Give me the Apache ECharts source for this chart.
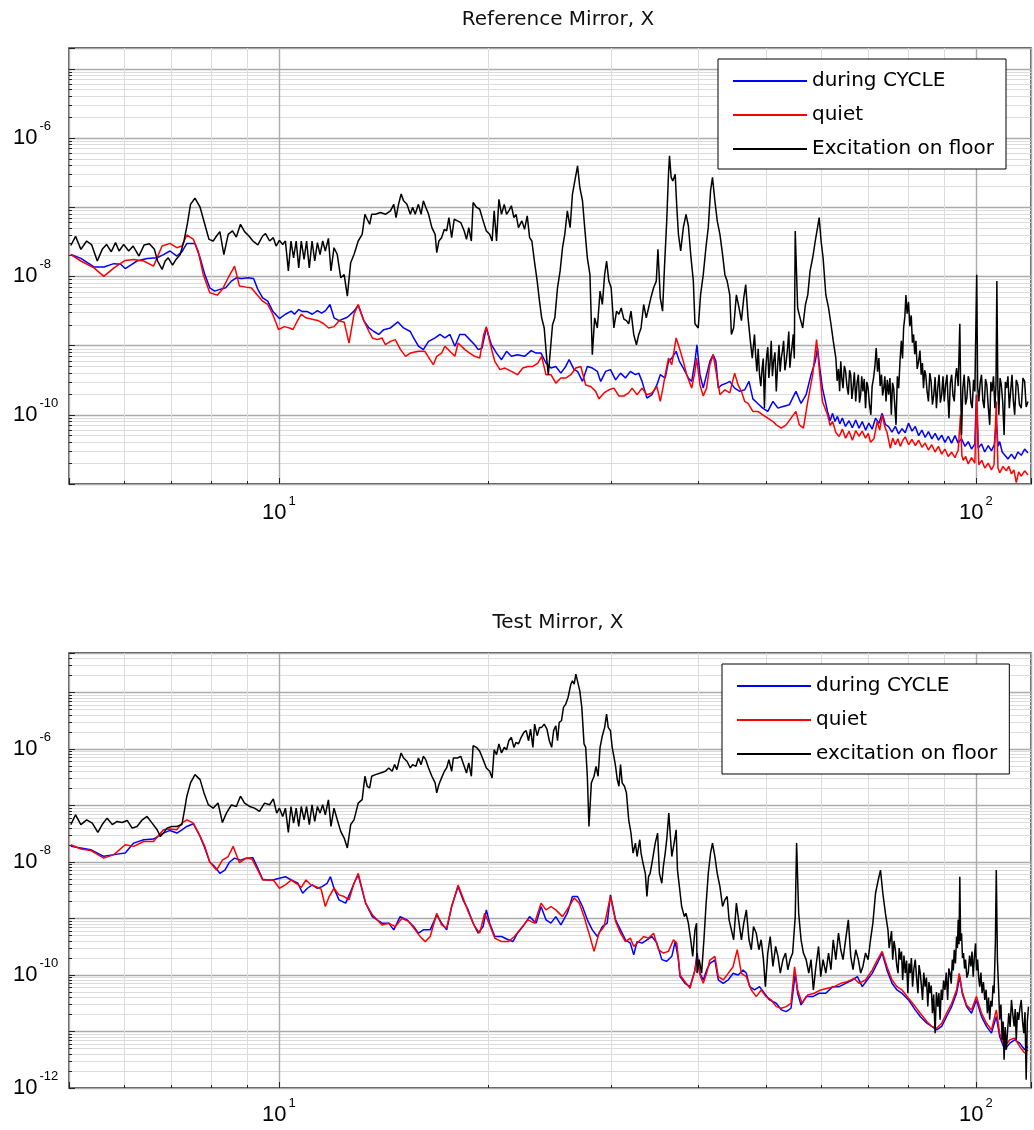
<!DOCTYPE html>
<html><head><meta charset="utf-8">
<script src="https://cdn.jsdelivr.net/npm/echarts@6/dist/echarts.min.js"></script>
<style>html,body{margin:0;padding:0;background:#fff}#c{width:1034px;height:1130px}</style>
</head><body><div id="c"></div>
<script>
const titles = ['Reference Mirror, X', 'Test Mirror, X'];
const legendTop = ['during CYCLE', 'quiet', 'Excitation on floor'];
const legendBottom = ['during CYCLE', 'quiet', 'excitation on floor'];
const xLabelExps = [1, 2];
const yLabelExpsTop = [-6, -8, -10];
const yLabelExpsBottom = [-6, -8, -10, -12];
const xRange = [5, 120];
const yRangeTop = [1e-11, 2e-5];
const yRangeBottom = [1e-12, 5e-5];

// Reference mirror: [frequency Hz, amplitude]
const refCycle = [[5.03,2.07e-8],[5.2,1.82e-8],[5.43,1.37e-8],[5.61,1.37e-8],[5.8,1.53e-8],[5.93,1.5e-8],[6.02,1.3e-8],[6.13,1.46e-8],[6.26,1.67e-8],[6.47,1.82e-8],[6.69,1.86e-8],[6.83,2.07e-8],[6.98,2.33e-8],[7.14,1.97e-8],[7.26,2.27e-8],[7.38,3.0e-8],[7.58,3.0e-8],[7.71,1.86e-8],[7.83,1.07e-8],[7.96,6.85e-9],[8.09,6.13e-9],[8.23,6.5e-9],[8.39,6.85e-9],[8.55,8.55e-9],[8.69,9.56e-9],[8.84,9.35e-9],[9.03,9.56e-9],[9.2,9.35e-9],[9.33,6.5e-9],[9.48,4.9e-9],[9.64,4.39e-9],[9.8,3.15e-9],[10.02,2.46e-9],[10.22,2.84e-9],[10.42,3.15e-9],[10.53,2.84e-9],[10.68,3.32e-9],[10.82,3.1e-9],[10.99,3.1e-9],[11.17,2.84e-9],[11.36,3.2e-9],[11.52,2.95e-9],[11.67,3.2e-9],[11.84,3.93e-9],[12.0,2.52e-9],[12.2,2.3e-9],[12.54,2.57e-9],[12.82,3.15e-9],[13.0,3.83e-9],[13.05,3.93e-9],[13.24,2.3e-9],[13.47,1.8e-9],[13.69,1.6e-9],[13.91,1.45e-9],[14.14,1.7e-9],[14.46,1.8e-9],[14.82,2.2e-9],[15.1,1.8e-9],[15.44,1.6e-9],[15.61,1.29e-9],[15.86,9.8e-10],[16.12,8.75e-10],[16.4,1.15e-9],[16.76,1.29e-9],[17.03,1.45e-9],[17.31,1.29e-9],[17.6,1.45e-9],[17.89,9.8e-10],[18.18,1.45e-9],[18.49,1.45e-9],[18.79,1.22e-9],[19.1,1.03e-9],[19.32,8.75e-10],[19.57,9.25e-10],[19.85,1.8e-9],[20.18,1.03e-9],[20.53,7.8e-10],[20.87,6.26e-10],[21.22,8.28e-10],[21.56,7.0e-10],[22.0,7.4e-10],[22.52,7.0e-10],[23.02,8.46e-10],[23.4,7.8e-10],[23.78,7.8e-10],[24.17,5.6e-10],[24.57,4.74e-10],[24.97,5.0e-10],[25.39,4.0e-10],[25.8,5.0e-10],[26.09,6.26e-10],[26.53,4.5e-10],[26.83,4.24e-10],[27.27,3.04e-10],[27.71,5.0e-10],[28.17,4.74e-10],[28.64,4.24e-10],[28.96,3.04e-10],[29.44,4.24e-10],[29.91,4.5e-10],[30.42,3.2e-10],[30.92,4.0e-10],[31.43,3.4e-10],[31.94,4.24e-10],[32.48,3.8e-10],[32.84,4.0e-10],[33.2,3.04e-10],[33.74,1.74e-10],[34.3,1.95e-10],[34.87,2.7e-10],[35.26,3.8e-10],[35.84,3.4e-10],[36.23,5.92e-10],[36.63,6.6e-10],[37.16,8.28e-10],[37.56,5.92e-10],[38.05,4.74e-10],[38.69,3.4e-10],[39.12,3.04e-10],[39.54,5.92e-10],[39.8,1.03e-9],[40.2,3.8e-10],[40.64,2.43e-10],[41.09,3.8e-10],[41.54,5.92e-10],[41.99,7.4e-10],[42.37,5.92e-10],[42.71,2.43e-10],[43.18,2.7e-10],[43.89,2.87e-10],[44.36,3.04e-10],[45.08,2.43e-10],[45.85,2.18e-10],[46.61,2.3e-10],[47.27,3.04e-10],[47.88,1.7e-10],[48.66,1.46e-10],[49.47,1.25e-10],[50.3,1.12e-10],[51.16,1.56e-10],[52.02,1.25e-10],[52.88,1.32e-10],[54.02,1.4e-10],[55.2,2.18e-10],[56.14,1.46e-10],[57.09,1.95e-10],[58.02,3.8e-10],[58.84,5.92e-10],[59.28,9.25e-10],[59.72,4.74e-10],[60.25,2.43e-10],[61.27,1.12e-10],[61.8,8.2e-11],[62.3,1.05e-10],[62.8,8.0e-11],[63.32,9.5e-11],[63.8,7.4e-11],[64.35,9.0e-11],[65.0,6.8e-11],[65.78,8.2e-11],[66.5,6.5e-11],[67.25,8.4e-11],[68.0,6.4e-11],[68.72,8.0e-11],[69.5,6.0e-11],[70.22,7.6e-11],[71.0,6.2e-11],[71.8,8.94e-11],[72.6,7.5e-11],[73.39,1.05e-10],[74.2,7.2e-11],[74.97,6.77e-11],[75.8,5.6e-11],[76.66,6.8e-11],[77.5,5.3e-11],[78.36,6.3e-11],[79.2,5.5e-11],[80.06,7.57e-11],[81.0,5.8e-11],[81.87,6.8e-11],[82.8,5.0e-11],[83.68,6.0e-11],[84.6,4.7e-11],[85.51,5.7e-11],[86.5,4.5e-11],[87.42,5.4e-11],[88.4,4.3e-11],[89.34,5.1e-11],[90.3,4.0e-11],[91.32,4.9e-11],[92.3,3.9e-11],[93.34,5.0e-11],[94.35,3.9e-11],[95.39,4.5e-11],[96.5,3.5e-11],[97.53,4.1e-11],[98.6,3.2e-11],[99.68,3.8e-11],[100.2,1.95e-10],[100.8,3.3e-11],[101.9,3.8e-11],[103.0,2.9e-11],[104.2,3.6e-11],[105.3,3.0e-11],[106.3,3.7e-11],[107.0,8.0e-11],[107.6,3.5e-11],[108.2,4.1e-11],[109.1,2.9e-11],[110.0,2.63e-11],[111.2,2.3e-11],[112.5,2.7e-11],[113.7,2.3e-11],[114.9,2.9e-11],[116.2,2.6e-11],[117.5,3.2e-11],[118.8,2.8e-11]];
const refQuiet = [[5.03,2.07e-8],[5.2,1.67e-8],[5.43,1.33e-8],[5.61,1.0e-8],[5.8,1.33e-8],[6.02,1.7e-8],[6.19,1.76e-8],[6.4,1.67e-8],[6.61,1.41e-8],[6.8,2.75e-8],[6.98,3.0e-8],[7.14,2.6e-8],[7.26,2.75e-8],[7.38,3.97e-8],[7.54,3.43e-8],[7.66,2.33e-8],[7.79,1.07e-8],[7.96,5.8e-9],[8.16,5.36e-9],[8.3,6.5e-9],[8.46,9.56e-9],[8.64,1.41e-8],[8.78,7.25e-9],[8.98,7.0e-9],[9.13,6.85e-9],[9.28,5.6e-9],[9.48,4.39e-9],[9.64,3.93e-9],[9.8,2.84e-9],[9.99,1.71e-9],[10.19,1.88e-9],[10.36,1.8e-9],[10.48,1.71e-9],[10.62,2.22e-9],[10.77,2.84e-9],[10.94,2.52e-9],[11.17,2.4e-9],[11.41,2.28e-9],[11.6,2.07e-9],[11.79,1.8e-9],[12.0,1.88e-9],[12.2,2.28e-9],[12.41,2.18e-9],[12.61,1.09e-9],[12.82,2.84e-9],[13.0,3.93e-9],[13.05,3.5e-9],[13.24,2.3e-9],[13.47,1.6e-9],[13.62,1.29e-9],[13.84,1.22e-9],[14.06,1.29e-9],[14.22,1.03e-9],[14.46,1.15e-9],[14.69,1.22e-9],[14.95,8.75e-10],[15.2,7.0e-10],[15.44,7.8e-10],[15.86,8.28e-10],[16.2,8.28e-10],[16.48,6.26e-10],[16.66,5.3e-10],[16.85,7.0e-10],[17.12,7.8e-10],[17.31,9.8e-10],[17.6,8.28e-10],[17.89,7.0e-10],[18.08,1.09e-9],[18.49,8.75e-10],[18.79,7.8e-10],[19.1,7.0e-10],[19.42,6.6e-10],[19.68,1.45e-9],[19.85,1.88e-9],[20.07,1.15e-9],[20.23,8.28e-10],[20.41,5.92e-10],[20.76,4.5e-10],[21.11,4.74e-10],[21.56,4.24e-10],[22.0,3.8e-10],[22.39,4.74e-10],[22.77,5.0e-10],[23.15,5.0e-10],[23.53,5.6e-10],[23.83,7.0e-10],[24.17,3.8e-10],[24.57,3.8e-10],[24.97,2.87e-10],[25.39,3.4e-10],[25.8,3.4e-10],[26.24,3.8e-10],[26.68,4.74e-10],[27.12,5.0e-10],[27.56,2.7e-10],[28.02,2.57e-10],[28.48,2.18e-10],[28.8,1.7e-10],[29.28,2.07e-10],[29.75,2.3e-10],[30.25,2.43e-10],[30.76,1.87e-10],[31.26,1.87e-10],[31.77,2.07e-10],[32.12,2.43e-10],[32.66,1.95e-10],[33.2,2.43e-10],[33.74,1.95e-10],[34.3,2.07e-10],[34.87,2.57e-10],[35.26,1.56e-10],[35.57,2.43e-10],[35.84,3.8e-10],[36.23,6.6e-10],[36.63,5.3e-10],[37.16,1.29e-9],[37.56,9.25e-10],[38.05,5.92e-10],[38.48,3.8e-10],[39.12,2.43e-10],[39.54,4.24e-10],[39.75,6.6e-10],[40.2,2.7e-10],[40.64,1.87e-10],[41.09,2.43e-10],[41.54,5.3e-10],[41.99,7.4e-10],[42.47,3.8e-10],[42.94,1.95e-10],[43.65,2.3e-10],[44.36,2.07e-10],[45.08,4.0e-10],[45.6,2.7e-10],[46.1,2.18e-10],[46.61,1.56e-10],[47.12,1.46e-10],[47.88,1.12e-10],[48.66,1.12e-10],[49.47,1.0e-10],[50.3,8.94e-11],[51.16,8.0e-11],[51.73,7.16e-11],[52.59,6.41e-11],[53.45,7.16e-11],[54.31,8.94e-11],[55.2,1.12e-10],[55.82,7.16e-11],[56.58,6.41e-11],[57.4,1.56e-10],[58.34,3.8e-10],[59.09,1.22e-9],[59.72,3.8e-10],[60.25,1.56e-10],[61.27,1.0e-10],[61.8,7.0e-11],[62.3,8.0e-11],[63.0,5.5e-11],[63.67,4.85e-11],[64.35,6.2e-11],[65.04,4.6e-11],[65.8,5.8e-11],[66.52,4.3e-11],[67.25,5.9e-11],[67.99,4.9e-11],[68.7,5.8e-11],[69.47,4.6e-11],[70.1,5.4e-11],[70.62,4.0e-11],[71.41,4.5e-11],[72.2,8.0e-11],[72.8,6.0e-11],[73.39,1.0e-10],[74.0,6.8e-11],[74.57,5.6e-11],[75.39,3.29e-11],[76.0,4.6e-11],[76.66,3.7e-11],[77.3,4.5e-11],[77.93,3.5e-11],[78.6,4.3e-11],[79.21,4.8e-11],[80.1,3.7e-11],[80.97,4.4e-11],[81.9,3.6e-11],[82.78,4.3e-11],[83.7,3.4e-11],[84.58,3.9e-11],[85.5,3.1e-11],[86.46,3.7e-11],[87.4,2.9e-11],[88.38,3.5e-11],[89.34,2.7e-11],[90.3,3.2e-11],[91.3,2.5e-11],[92.33,2.9e-11],[93.34,2.4e-11],[94.35,3.1e-11],[95.07,1.0e-10],[95.5,2.6e-11],[95.92,2.2e-11],[96.7,2.5e-11],[97.53,1.95e-11],[98.6,2.4e-11],[99.68,2.0e-11],[100.3,1.95e-10],[101.0,1.9e-11],[102.0,2.2e-11],[103.0,1.7e-11],[104.2,2.0e-11],[105.3,1.6e-11],[106.2,1.9e-11],[107.0,1.56e-10],[107.6,1.7e-11],[108.2,1.45e-11],[109.4,1.8e-11],[110.6,1.55e-11],[111.5,1.8e-11],[112.5,1.4e-11],[113.4,1.6e-11],[114.3,1.05e-11],[115.2,1.5e-11],[116.2,1.3e-11],[117.5,1.55e-11],[118.8,1.35e-11]];
const refFloor = [[5.03,2.8e-8],[5.11,3.8e-8],[5.2,2.46e-8],[5.3,3.25e-8],[5.39,2.85e-8],[5.49,1.67e-8],[5.58,2.46e-8],[5.66,2.9e-8],[5.75,2.27e-8],[5.83,3.08e-8],[5.9,2.33e-8],[5.99,2.9e-8],[6.09,2.33e-8],[6.18,2.75e-8],[6.3,1.97e-8],[6.41,2.85e-8],[6.52,2.97e-8],[6.63,2.46e-8],[6.7,1.67e-8],[6.8,1.26e-8],[6.87,1.67e-8],[6.94,1.86e-8],[7.04,1.46e-8],[7.12,1.76e-8],[7.22,2.07e-8],[7.31,3.25e-8],[7.39,5.67e-8],[7.47,1.1e-7],[7.58,1.35e-7],[7.71,1.0e-7],[7.83,5.67e-8],[7.94,3.43e-8],[8.05,3.25e-8],[8.14,3.84e-8],[8.23,4.44e-8],[8.34,2.07e-8],[8.46,4.06e-8],[8.58,4.54e-8],[8.69,3.71e-8],[8.81,5.67e-8],[8.93,4.44e-8],[9.06,3.84e-8],[9.18,3.25e-8],[9.33,2.85e-8],[9.48,3.84e-8],[9.57,4.15e-8],[9.7,3.25e-8],[9.82,3.63e-8],[9.91,2.75e-8],[10.02,3.32e-8],[10.13,2.9e-8],[10.22,3.25e-8],[10.32,1.2e-8],[10.41,3.25e-8],[10.5,1.86e-8],[10.59,3.25e-8],[10.68,1.33e-8],[10.77,3.25e-8],[10.87,1.76e-8],[10.96,3.25e-8],[11.06,1.33e-8],[11.16,3.25e-8],[11.26,1.67e-8],[11.36,3.08e-8],[11.46,2.07e-8],[11.56,3.25e-8],[11.66,2.33e-8],[11.78,3.55e-8],[11.88,1.2e-8],[12.0,2.6e-8],[12.13,2.07e-8],[12.27,9.56e-9],[12.41,1.06e-8],[12.54,5.2e-9],[12.68,1.58e-8],[12.82,2.07e-8],[13.0,3.25e-8],[13.17,4.06e-8],[13.29,7.9e-8],[13.39,6.7e-8],[13.5,5.67e-8],[13.59,7.9e-8],[13.76,7.9e-8],[13.99,8.37e-8],[14.22,7.9e-8],[14.46,8.85e-8],[14.62,1.1e-7],[14.73,7.1e-8],[14.85,1.1e-7],[14.98,1.55e-7],[15.1,1.24e-7],[15.27,1.1e-7],[15.44,7.9e-8],[15.56,1.0e-7],[15.69,7.9e-8],[15.86,1.1e-7],[16.0,7.9e-8],[16.12,1.24e-7],[16.25,1.0e-7],[16.4,7.9e-8],[16.58,5.07e-8],[16.76,4.06e-8],[16.85,2.2e-8],[16.97,3.25e-8],[17.12,3.63e-8],[17.28,4.8e-8],[17.41,4.54e-8],[17.54,7.1e-8],[17.7,3.63e-8],[17.85,6.7e-8],[18.04,6.35e-8],[18.24,6.0e-8],[18.45,4.54e-8],[18.59,3.43e-8],[18.73,5.07e-8],[18.89,3.25e-8],[19.0,1.17e-7],[19.21,1.0e-7],[19.42,9.35e-8],[19.64,6.35e-8],[19.85,4.54e-8],[20.07,4.06e-8],[20.23,3.25e-8],[20.37,8.85e-8],[20.53,3.25e-8],[20.69,1.3e-7],[20.87,7.9e-8],[21.06,1.1e-7],[21.22,7.9e-8],[21.38,8.85e-8],[21.56,1.05e-7],[21.74,7.1e-8],[21.9,7.9e-8],[22.07,5.07e-8],[22.32,6.35e-8],[22.52,4.8e-8],[22.72,7.5e-8],[22.9,3.63e-8],[23.07,3.25e-8],[23.28,1.58e-8],[23.48,8.55e-9],[23.66,4.39e-9],[23.83,2.52e-9],[24.03,1.8e-9],[24.25,5.92e-10],[24.36,3.8e-10],[24.52,8.28e-10],[24.7,2.0e-9],[24.89,2.52e-9],[25.11,6.85e-9],[25.33,1.21e-8],[25.53,2.6e-8],[25.72,4.06e-8],[25.94,8.85e-8],[26.18,5.07e-8],[26.38,1.55e-7],[26.59,2.4e-7],[26.83,3.97e-7],[27.03,1.93e-7],[27.27,1.24e-7],[27.47,5.07e-8],[27.71,1.86e-8],[27.95,1.06e-8],[28.17,7.4e-10],[28.39,2.52e-9],[28.64,1.8e-9],[28.9,6.13e-9],[29.12,3.93e-9],[29.34,1.06e-8],[29.53,1.67e-8],[29.75,8.55e-9],[29.98,6.85e-9],[30.25,1.8e-9],[30.52,3.15e-9],[30.76,2.84e-9],[30.99,3.5e-9],[31.26,2.42e-9],[31.53,2.3e-9],[31.77,2.07e-9],[32.01,3.15e-9],[32.3,1.45e-9],[32.59,1.03e-9],[32.84,1.45e-9],[33.09,1.8e-9],[33.38,3.93e-9],[33.67,2.52e-9],[33.92,3.5e-9],[34.18,4.9e-9],[34.49,6.85e-9],[34.8,8.55e-9],[34.99,2.46e-8],[35.26,4.9e-9],[35.53,3.15e-9],[35.75,1.33e-8],[36.02,6.35e-8],[36.23,3.0e-7],[36.35,5.54e-7],[36.55,2.7e-7],[36.75,2.4e-7],[37.04,3.0e-7],[37.24,1.0e-7],[37.44,4.06e-8],[37.72,2.33e-8],[38.05,5.07e-8],[38.39,7.9e-8],[38.69,5.4e-8],[38.99,2.07e-8],[39.33,8.55e-9],[39.54,2.07e-9],[39.97,1.8e-9],[40.28,5.4e-9],[40.64,1.06e-8],[41.0,2.6e-8],[41.32,5.07e-8],[41.63,1.72e-7],[41.9,2.7e-7],[42.23,1.24e-7],[42.56,6.35e-8],[42.94,4.06e-8],[43.32,2.07e-8],[43.65,1.06e-8],[43.98,8.55e-9],[44.36,5.4e-9],[44.6,1.45e-9],[44.93,1.8e-9],[45.34,5.4e-9],[45.74,3.5e-9],[46.1,2.3e-9],[46.46,4.9e-9],[46.76,7.6e-9],[47.12,2.52e-9],[47.48,1.17e-9],[47.78,6.6e-10],[48.14,1.45e-9],[48.33,7.0e-10],[48.52,4.24e-10],[48.73,9.0e-10],[48.94,3.8e-10],[49.15,2.6e-10],[49.37,4.74e-10],[49.55,6.5e-10],[49.74,1.25e-10],[49.93,4.3e-10],[50.13,7.4e-10],[50.3,9.5e-10],[50.47,3.4e-10],[50.67,5.5e-10],[50.87,1.17e-9],[51.07,3.6e-10],[51.27,5.92e-10],[51.5,8.0e-10],[51.73,2.18e-10],[51.96,5.2e-10],[52.19,1.03e-9],[52.39,4.2e-10],[52.59,6.6e-10],[52.8,8.5e-10],[53.0,1.17e-9],[53.22,4.4e-10],[53.45,5.92e-10],[53.68,9.0e-10],[53.91,1.6e-9],[54.1,4.8e-10],[54.31,7.4e-10],[54.51,1.0e-9],[54.71,1.45e-9],[54.9,6.5e-10],[55.07,4.54e-8],[55.51,3.5e-9],[55.95,2.52e-9],[56.45,1.8e-9],[56.96,3.93e-9],[57.4,5.4e-9],[57.84,1.2e-8],[58.34,1.86e-8],[58.84,3.25e-8],[59.28,5.07e-8],[59.6,7.1e-8],[59.98,3.25e-8],[60.38,1.86e-8],[60.93,5.4e-9],[61.48,3.5e-9],[61.96,2.07e-9],[62.44,1.17e-9],[62.98,6.6e-10],[63.25,3.1e-10],[63.53,4.6e-10],[63.77,2.2e-10],[64.01,5.92e-10],[64.25,3.3e-10],[64.49,2.43e-10],[64.77,5.1e-10],[65.04,4.24e-10],[65.33,2.6e-10],[65.63,1.95e-10],[65.9,4.4e-10],[66.15,3.8e-10],[66.4,1.7e-10],[66.66,2.43e-10],[66.95,4.1e-10],[67.25,1.56e-10],[67.55,2.9e-10],[67.84,3.8e-10],[68.1,1.5e-10],[68.36,1.95e-10],[68.6,3.6e-10],[68.87,2.18e-10],[69.17,3.3e-10],[69.47,1.25e-10],[69.77,3.0e-10],[70.06,2.43e-10],[70.38,1.4e-10],[70.7,1.0e-10],[71.0,2.6e-10],[71.33,3.4e-10],[71.65,5.0e-10],[71.96,9.25e-10],[72.28,4.2e-10],[72.6,6.6e-10],[72.9,2.6e-10],[73.23,3.8e-10],[73.5,1.9e-10],[73.78,2.43e-10],[74.05,3.6e-10],[74.33,1.56e-10],[74.65,3.2e-10],[74.97,1.95e-10],[75.3,3.4e-10],[75.65,1.0e-10],[75.95,2.9e-10],[76.24,2.43e-10],[76.53,1.3e-10],[76.83,7.16e-11],[77.17,3.6e-10],[77.51,2.43e-10],[77.85,6.0e-10],[78.19,1.17e-9],[78.5,6.5e-10],[78.78,1.8e-9],[79.1,2.6e-9],[79.38,5.4e-9],[79.7,2.9e-9],[80.06,4.3e-9],[80.42,1.9e-9],[80.79,2.73e-9],[81.1,1.1e-9],[81.42,1.45e-9],[81.73,7.5e-10],[82.05,1.17e-9],[82.4,4.6e-10],[82.78,5.92e-10],[83.15,8.5e-10],[83.5,3.8e-10],[83.82,5.6e-10],[84.13,2.43e-10],[84.45,4.4e-10],[84.76,3.8e-10],[85.13,2.2e-10],[85.51,1.56e-10],[85.9,4.0e-10],[86.27,3.04e-10],[86.65,1.4e-10],[87.04,1.95e-10],[87.42,3.5e-10],[87.8,1.25e-10],[88.2,2.5e-10],[88.57,3.8e-10],[88.95,1.5e-10],[89.34,1.95e-10],[89.72,3.6e-10],[90.1,1.56e-10],[90.5,2.7e-10],[90.92,3.8e-10],[91.22,1.7e-10],[91.52,8.94e-11],[91.93,2.9e-10],[92.33,3.8e-10],[92.73,1.9e-10],[93.13,1.56e-10],[93.5,3.4e-10],[93.84,4.74e-10],[94.35,2.6e-10],[94.85,2.07e-9],[95.1,2.8e-10],[95.39,5.13e-11],[95.8,2.4e-10],[96.24,3.8e-10],[96.67,1.4e-10],[97.1,1.76e-10],[97.53,3.6e-10],[97.96,3.04e-10],[98.4,1.5e-10],[98.82,1.25e-10],[99.25,3.2e-10],[99.68,2.18e-10],[100.3,1.06e-8],[100.6,2.6e-10],[101.0,1.56e-10],[101.45,2.9e-10],[101.9,3.8e-10],[102.35,1.6e-10],[102.8,1.25e-10],[103.25,3.3e-10],[103.7,2.7e-10],[104.2,1.3e-10],[104.7,7.16e-11],[105.1,3.0e-10],[105.5,2.18e-10],[106.0,3.6e-10],[106.5,1.25e-10],[106.9,2.8e-10],[107.2,8.55e-9],[107.55,2.4e-10],[107.9,1.0e-10],[108.35,3.4e-10],[108.8,2.7e-10],[109.3,1.5e-10],[109.8,5.13e-11],[110.25,3.0e-10],[110.7,2.43e-10],[111.2,3.6e-10],[111.7,1.25e-10],[112.2,2.2e-10],[112.7,3.8e-10],[113.2,1.6e-10],[113.7,1.0e-10],[114.3,3.2e-10],[114.9,2.7e-10],[115.5,1.4e-10],[116.2,1.25e-10],[116.85,3.4e-10],[117.5,3.04e-10],[118.1,1.3e-10],[118.8,1.56e-10]];

// Test mirror: [frequency Hz, amplitude]
const testCycle = [[5.03,1.89e-8],[5.2,1.77e-8],[5.37,1.65e-8],[5.61,1.26e-8],[5.8,1.35e-8],[6.02,1.44e-8],[6.19,2.16e-8],[6.4,2.48e-8],[6.61,2.55e-8],[6.83,3.25e-8],[6.98,3.62e-8],[7.14,3.25e-8],[7.26,3.72e-8],[7.38,4.26e-8],[7.54,4.75e-8],[7.71,2.84e-8],[7.83,1.77e-8],[7.96,1.0e-8],[8.09,8.27e-9],[8.23,6.3e-9],[8.37,7.2e-9],[8.5,1.0e-8],[8.64,1.17e-8],[8.81,1.08e-8],[8.98,1.17e-8],[9.18,1.19e-8],[9.33,7.73e-9],[9.48,4.94e-9],[9.64,4.8e-9],[9.8,4.8e-9],[10.02,5.15e-9],[10.22,5.5e-9],[10.42,4.8e-9],[10.65,4.2e-9],[10.82,2.8e-9],[10.99,3.43e-9],[11.17,3.93e-9],[11.36,3.43e-9],[11.54,3.67e-9],[11.73,4.2e-9],[11.86,5.5e-9],[12.0,3.43e-9],[12.2,2.14e-9],[12.47,1.87e-9],[12.68,2.99e-9],[12.82,4.2e-9],[13.0,5.89e-9],[13.05,5.89e-9],[13.32,1.87e-9],[13.62,1.08e-9],[14.06,8.27e-10],[14.38,8.27e-10],[14.62,6.3e-10],[14.93,1.08e-9],[15.27,9.47e-10],[15.61,7.2e-10],[15.86,5.5e-10],[16.12,6.3e-10],[16.49,6.3e-10],[16.85,1.16e-9],[17.12,8.27e-10],[17.41,6.3e-10],[17.7,1.63e-9],[18.08,3.67e-9],[18.38,2.14e-9],[18.69,1.42e-9],[19.0,8.27e-10],[19.32,5.5e-10],[19.64,7.2e-10],[19.85,1.42e-9],[20.07,8.27e-10],[20.41,4.8e-10],[20.87,4.8e-10],[21.34,4.2e-10],[21.67,3.9e-10],[22.0,5.5e-10],[22.39,7.2e-10],[22.9,1.08e-9],[23.4,8.27e-10],[23.78,1.63e-9],[24.17,9.47e-10],[24.57,8.27e-10],[24.97,1.08e-9],[25.39,7.7e-10],[25.94,1.24e-9],[26.38,2.45e-9],[26.83,2.45e-9],[27.27,1.63e-9],[27.71,9.47e-10],[28.17,6.3e-10],[28.64,4.8e-10],[29.12,7.2e-10],[29.59,8.27e-10],[29.91,2.62e-9],[30.42,9.47e-10],[30.92,6.3e-10],[31.43,4.2e-10],[31.94,3.67e-10],[32.3,2.27e-10],[32.66,3.9e-10],[33.2,3.67e-10],[33.74,4.2e-10],[34.3,4.8e-10],[34.87,3.67e-10],[35.44,1.87e-10],[36.02,1.75e-10],[36.63,2.14e-10],[37.04,3.9e-10],[37.44,1.87e-10],[37.64,9.35e-11],[38.26,7.13e-11],[38.9,6.22e-11],[39.54,1.22e-10],[39.82,2.45e-10],[40.2,1.07e-10],[40.64,8.16e-11],[41.09,1.22e-10],[41.54,1.6e-10],[42.23,1.84e-10],[42.71,8.16e-11],[43.41,7.13e-11],[44.13,8.16e-11],[44.84,1.07e-10],[45.6,1.0e-10],[46.36,1.22e-10],[46.86,1.07e-10],[47.37,6.22e-11],[48.14,5.44e-11],[48.94,6.22e-11],[49.74,4.75e-11],[50.58,3.62e-11],[51.73,3.16e-11],[52.59,2.41e-11],[53.45,2.25e-11],[54.31,2.58e-11],[55.07,1.07e-10],[55.51,4.75e-11],[56.14,2.95e-11],[57.09,4.15e-11],[58.34,4.15e-11],[59.6,4.75e-11],[60.93,4.75e-11],[62.3,6.22e-11],[63.67,6.22e-11],[65.04,7.13e-11],[66.52,8.16e-11],[67.62,9.35e-11],[68.72,6.22e-11],[69.84,8.16e-11],[71.01,1.07e-10],[72.2,1.6e-10],[73.39,2.45e-10],[74.57,1.22e-10],[75.82,7.13e-11],[77.08,5.44e-11],[78.36,4.75e-11],[80.06,3.62e-11],[81.87,2.41e-11],[83.23,1.84e-11],[85.06,1.4e-11],[86.46,1.23e-11],[87.89,1.07e-11],[89.34,1.23e-11],[90.81,1.84e-11],[92.33,2.76e-11],[93.84,4.75e-11],[94.85,9.35e-11],[95.6,4.75e-11],[96.99,2.76e-11],[98.6,2.11e-11],[100.2,3.62e-11],[101.9,1.84e-11],[103.6,1.23e-11],[105.3,9.35e-12],[107.0,1.84e-11],[108.2,8.16e-12],[110.0,4.75e-12],[111.9,6.22e-12],[113.7,7.13e-12],[115.6,6.22e-12],[117.5,4.75e-12],[118.8,5.44e-12]];
const testQuiet = [[5.03,2.02e-8],[5.2,1.7e-8],[5.37,1.6e-8],[5.61,1.17e-8],[5.8,1.35e-8],[6.02,2.02e-8],[6.19,1.89e-8],[6.4,2.31e-8],[6.61,2.31e-8],[6.83,3.72e-8],[6.98,3.82e-8],[7.14,3.72e-8],[7.26,4.88e-8],[7.38,5.58e-8],[7.54,4.88e-8],[7.71,2.84e-8],[7.83,1.89e-8],[7.96,1.0e-8],[8.14,7.2e-9],[8.3,1.08e-8],[8.46,1.25e-8],[8.6,1.89e-8],[8.78,9.7e-9],[8.98,1.17e-8],[9.15,1.13e-8],[9.33,7.2e-9],[9.48,4.8e-9],[9.64,4.8e-9],[9.82,4.8e-9],[10.02,3.43e-9],[10.22,3.93e-9],[10.42,4.8e-9],[10.59,4.2e-9],[10.77,3.55e-9],[10.94,4.8e-9],[11.12,3.93e-9],[11.31,3.67e-9],[11.5,3.3e-9],[11.66,1.63e-9],[11.81,2.45e-9],[12.0,3.43e-9],[12.2,2.62e-9],[12.41,2.45e-9],[12.61,2.14e-9],[12.82,4.2e-9],[13.0,6.3e-9],[13.05,6.3e-9],[13.32,1.87e-9],[13.62,1.16e-9],[14.06,7.7e-10],[14.38,8.27e-10],[14.69,7.2e-10],[15.02,1.0e-9],[15.35,8.9e-10],[15.69,6.3e-10],[15.95,4.8e-10],[16.22,3.9e-10],[16.49,4.8e-10],[16.85,1.24e-9],[17.12,7.7e-10],[17.41,6.75e-10],[17.7,1.63e-9],[18.08,3.9e-9],[18.38,2.3e-9],[18.69,1.33e-9],[19.1,7.2e-10],[19.42,5.5e-10],[19.74,1.24e-9],[20.07,7.7e-10],[20.41,4.5e-10],[20.87,3.9e-10],[21.34,3.9e-10],[21.78,4.8e-10],[22.27,6.75e-10],[22.77,9.47e-10],[23.28,8.27e-10],[23.78,1.87e-9],[24.17,1.42e-9],[24.57,1.63e-9],[24.97,1.42e-9],[25.53,1.08e-9],[26.09,1.63e-9],[26.53,2.3e-9],[26.98,1.87e-9],[27.41,1.08e-9],[27.86,5.5e-10],[28.33,2.62e-10],[28.8,5.5e-10],[29.28,7.2e-10],[29.91,2.45e-9],[30.42,8.9e-10],[30.92,5.5e-10],[31.43,3.9e-10],[31.94,4.5e-10],[32.3,3.2e-10],[32.84,3.9e-10],[33.38,4.8e-10],[33.92,4.5e-10],[34.49,5.5e-10],[35.06,2.8e-10],[35.62,2.45e-10],[36.23,2.62e-10],[36.83,4.2e-10],[37.24,3.67e-10],[37.64,1.0e-10],[38.26,7.6e-11],[38.9,5.82e-11],[39.54,1.22e-10],[39.82,2.14e-10],[40.2,1.0e-10],[40.64,7.13e-11],[41.09,1.07e-10],[41.54,1.84e-10],[42.23,2.14e-10],[42.71,9.35e-11],[43.41,8.16e-11],[44.13,1.07e-10],[44.84,1.4e-10],[45.47,2.8e-10],[46.1,1.07e-10],[46.86,9.35e-11],[47.63,5.44e-11],[48.42,4.15e-11],[49.21,5.44e-11],[50.0,4.15e-11],[50.87,3.62e-11],[51.73,2.76e-11],[52.59,2.58e-11],[53.45,2.76e-11],[54.31,3.16e-11],[54.95,1.4e-10],[55.51,5.44e-11],[56.33,3.16e-11],[57.4,4.44e-11],[58.65,4.75e-11],[59.92,5.44e-11],[61.27,5.82e-11],[62.64,6.22e-11],[64.01,7.13e-11],[65.41,7.63e-11],[66.88,8.73e-11],[67.99,7.13e-11],[69.47,8.16e-11],[71.01,1.22e-10],[72.2,1.84e-10],[73.39,2.62e-10],[74.57,1.4e-10],[75.82,8.16e-11],[77.08,6.22e-11],[78.36,5.44e-11],[80.06,3.87e-11],[81.87,2.76e-11],[83.23,2.11e-11],[85.06,1.5e-11],[86.46,1.23e-11],[87.89,1.14e-11],[89.34,1.4e-11],[90.81,2.11e-11],[92.33,3.16e-11],[93.84,5.44e-11],[94.65,1.07e-10],[95.6,5.08e-11],[96.99,2.95e-11],[98.6,2.41e-11],[100.2,4.15e-11],[101.9,2.11e-11],[103.6,1.4e-11],[105.3,1.07e-11],[107.0,2.41e-11],[108.2,9.35e-12],[110.0,5.44e-12],[111.9,7.13e-12],[113.7,7.63e-12],[115.6,5.44e-12],[117.5,4.15e-12],[118.8,4.75e-12]];
const testFloor = [[5.03,4.6e-8],[5.11,6.85e-8],[5.2,4.6e-8],[5.3,5.58e-8],[5.4,4.88e-8],[5.5,3.33e-8],[5.58,4.6e-8],[5.67,5.97e-8],[5.77,4.6e-8],[5.86,5.22e-8],[5.96,5.0e-8],[6.06,5.44e-8],[6.16,3.98e-8],[6.26,4.26e-8],[6.37,5.58e-8],[6.47,6.4e-8],[6.58,4.88e-8],[6.69,3.72e-8],[6.76,2.84e-8],[6.83,3.25e-8],[6.91,3.98e-8],[7.02,4.26e-8],[7.14,4.26e-8],[7.26,4.6e-8],[7.31,7.33e-8],[7.38,1.46e-7],[7.47,2.51e-7],[7.58,3.52e-7],[7.71,2.87e-7],[7.81,1.67e-7],[7.92,1.04e-7],[8.05,8.97e-8],[8.18,1.11e-7],[8.3,5.0e-8],[8.41,7.33e-8],[8.55,1.02e-7],[8.69,9.6e-8],[8.81,1.46e-7],[8.93,1.1e-7],[9.08,9.6e-8],[9.23,8.97e-8],[9.38,7.84e-8],[9.54,1.1e-7],[9.7,1.03e-7],[9.82,1.31e-7],[9.93,7.33e-8],[10.02,8.97e-8],[10.13,6.4e-8],[10.22,8.97e-8],[10.32,3.33e-8],[10.41,9.6e-8],[10.5,4.88e-8],[10.59,8.97e-8],[10.68,4.26e-8],[10.77,9.6e-8],[10.87,5.58e-8],[10.96,9.6e-8],[11.06,4.6e-8],[11.16,1.03e-7],[11.26,5.22e-8],[11.36,9.6e-8],[11.46,7.33e-8],[11.56,1.03e-7],[11.66,6.85e-8],[11.78,1.26e-7],[11.88,4.26e-8],[12.0,8.97e-8],[12.13,5.58e-8],[12.27,3.48e-8],[12.41,2.65e-8],[12.54,1.77e-8],[12.68,4.6e-8],[12.82,5.58e-8],[13.0,1.1e-7],[13.17,1.27e-7],[13.29,3.29e-7],[13.39,2.19e-7],[13.5,2.05e-7],[13.59,3.29e-7],[13.76,3.52e-7],[13.99,3.76e-7],[14.22,4.03e-7],[14.38,4.62e-7],[14.54,4.03e-7],[14.66,5.29e-7],[14.77,4.32e-7],[14.89,6.48e-7],[14.98,8.5e-7],[15.1,6.93e-7],[15.27,6.06e-7],[15.44,4.62e-7],[15.56,5.29e-7],[15.73,4.94e-7],[15.86,6.93e-7],[16.0,5.29e-7],[16.12,7.42e-7],[16.25,6.48e-7],[16.4,4.62e-7],[16.58,3.29e-7],[16.76,2.51e-7],[16.85,1.67e-7],[16.97,2.35e-7],[17.12,3.08e-7],[17.28,4.03e-7],[17.41,4.62e-7],[17.54,6.48e-7],[17.7,4.03e-7],[17.8,6.93e-7],[18.04,6.93e-7],[18.24,7.42e-7],[18.45,4.94e-7],[18.59,3.76e-7],[18.73,5.66e-7],[18.89,3.29e-7],[19.0,1.14e-6],[19.21,1.07e-6],[19.42,9.1e-7],[19.64,6.48e-7],[19.85,4.62e-7],[20.07,4.03e-7],[20.23,3.08e-7],[20.37,9.7e-7],[20.53,7.94e-7],[20.69,1.23e-6],[20.87,8.5e-7],[21.06,1.07e-6],[21.22,9.7e-7],[21.38,1.4e-6],[21.56,1.61e-6],[21.74,1.07e-6],[21.9,1.31e-6],[22.07,1.23e-6],[22.27,1.61e-6],[22.47,1.97e-6],[22.64,2.11e-6],[22.82,1.4e-6],[22.97,2.25e-6],[23.15,1.07e-6],[23.28,2.76e-6],[23.48,1.72e-6],[23.66,2.41e-6],[23.83,2.41e-6],[24.03,2.76e-6],[24.25,2.25e-6],[24.44,1.4e-6],[24.63,1.07e-6],[24.79,2.11e-6],[24.97,2.58e-6],[25.11,1.4e-6],[25.25,2.95e-6],[25.44,3.16e-6],[25.61,5.44e-6],[25.8,6.22e-6],[26.0,8.16e-6],[26.24,1.4e-5],[26.38,1.61e-5],[26.53,1.4e-5],[26.68,2.11e-5],[26.83,2.25e-5],[27.03,1.07e-5],[27.21,5.44e-6],[27.41,1.23e-6],[27.56,1.07e-6],[27.71,3.29e-7],[27.86,4.26e-8],[28.08,2.51e-7],[28.33,3.29e-7],[28.52,4.94e-7],[28.71,3.29e-7],[28.9,1.07e-6],[29.12,1.72e-6],[29.34,2.41e-6],[29.53,4.15e-6],[29.69,2.41e-6],[29.91,2.11e-6],[30.08,1.07e-6],[30.25,7.42e-7],[30.42,4.94e-7],[30.59,2.87e-7],[30.76,2.19e-7],[30.92,5.29e-7],[31.09,2.51e-7],[31.33,2.19e-7],[31.53,1.67e-7],[31.77,5.58e-8],[32.01,3.25e-8],[32.23,1.44e-8],[32.48,2.16e-8],[32.66,1.25e-8],[32.95,2.48e-8],[33.09,1.44e-8],[33.31,9.47e-9],[33.56,6.3e-9],[33.74,2.45e-9],[33.92,5.5e-9],[34.1,6.3e-9],[34.3,9.47e-9],[34.49,1.44e-8],[34.68,2.16e-8],[34.95,3.25e-8],[35.16,6.3e-9],[35.44,4.2e-9],[35.62,8.27e-9],[35.84,1.44e-8],[36.02,2.48e-8],[36.27,7.33e-8],[36.43,3.25e-8],[36.63,1.25e-8],[36.91,2.16e-8],[37.16,3.72e-8],[37.32,7.2e-9],[37.56,3.67e-9],[37.84,1.63e-9],[38.18,1.08e-9],[38.39,1.24e-9],[38.69,8.27e-10],[38.99,4.2e-10],[39.25,2.14e-10],[39.54,6.3e-10],[39.75,8.27e-10],[39.82,1.08e-10],[40.1,1.87e-10],[40.42,1.08e-10],[40.73,4.2e-10],[41.0,1.63e-9],[41.32,6.3e-9],[41.63,1.44e-8],[41.9,2.16e-8],[42.23,1.25e-8],[42.56,6.3e-9],[42.94,3.67e-9],[43.32,1.63e-9],[43.65,2.14e-9],[43.98,2.45e-9],[44.26,9.47e-10],[44.6,6.3e-10],[44.93,4.2e-10],[45.34,1.87e-9],[45.74,8.27e-10],[46.1,4.2e-10],[46.46,8.27e-10],[46.86,1.42e-9],[47.27,4.2e-10],[47.63,2.8e-10],[47.98,7.2e-10],[48.42,5.5e-10],[48.84,2.8e-10],[49.21,4.2e-10],[49.58,1.87e-10],[49.9,6.22e-11],[50.3,2.45e-10],[50.7,4.8e-10],[51.16,1.42e-10],[51.62,3.2e-10],[52.02,2.14e-10],[52.42,1.08e-10],[52.88,1.87e-10],[53.34,2.45e-10],[53.74,1.24e-10],[54.14,1.87e-10],[54.6,2.45e-10],[55.07,1.08e-9],[55.32,2.16e-8],[55.7,1.24e-9],[56.14,4.2e-10],[56.58,2.45e-10],[57.09,1.87e-10],[57.59,1.08e-10],[58.02,1.87e-10],[58.47,5.44e-11],[58.97,1.42e-10],[59.48,3.2e-10],[59.92,9.35e-11],[60.38,1.87e-10],[60.93,1.08e-10],[61.48,2.45e-10],[61.96,1.24e-10],[62.44,4.2e-10],[62.98,1.87e-10],[63.53,5.5e-10],[64.01,2.8e-10],[64.49,1.87e-10],[65.04,4.2e-10],[65.63,9.47e-10],[66.15,2.14e-10],[66.66,1.24e-10],[67.25,2.8e-10],[67.84,1.87e-10],[68.36,1.08e-10],[68.87,1.42e-10],[69.47,2.45e-10],[70.06,1.87e-10],[70.62,4.2e-10],[71.17,8.27e-10],[71.8,2.8e-9],[72.44,4.8e-9],[72.99,7.2e-9],[73.55,2.8e-9],[74.18,1.24e-9],[74.81,6.3e-10],[75.1,3.0e-10],[75.39,4.2e-10],[75.7,6.0e-10],[75.99,1.87e-10],[76.33,4.0e-10],[76.66,2.8e-10],[77.0,1.5e-10],[77.34,1.08e-10],[77.63,3.0e-10],[77.93,1.87e-10],[78.23,2.6e-10],[78.53,8.16e-11],[78.87,2.2e-10],[79.21,1.08e-10],[79.55,1.8e-10],[79.89,4.75e-11],[80.2,1.6e-10],[80.52,1.08e-10],[80.83,2.0e-10],[81.15,6.22e-11],[81.5,1.3e-10],[81.87,1.87e-10],[82.23,9.0e-11],[82.6,4.75e-11],[82.9,1.5e-10],[83.23,1.08e-10],[83.55,6.5e-11],[83.86,3.62e-11],[84.2,1.1e-10],[84.58,6.22e-11],[84.95,9.0e-11],[85.33,2.76e-11],[85.66,7.5e-11],[85.99,4.75e-11],[86.3,6.5e-11],[86.65,2.11e-11],[87.0,4.5e-11],[87.42,9.35e-12],[87.8,5.0e-11],[88.19,2.76e-11],[88.52,4.8e-11],[88.86,1.61e-11],[89.2,5.5e-11],[89.53,3.62e-11],[89.9,8.0e-11],[90.3,5.44e-11],[90.7,1.1e-10],[91.12,3.62e-11],[91.47,1.3e-10],[91.83,1.08e-10],[92.2,7.0e-11],[92.53,1.87e-10],[92.83,1.2e-10],[93.13,2.8e-10],[93.5,1.6e-10],[93.84,4.8e-10],[94.1,3.0e-10],[94.35,9.47e-10],[94.6,3.5e-10],[94.85,5.5e-9],[95.1,4.0e-10],[95.39,5.5e-10],[95.7,2.0e-10],[96.03,2.45e-10],[96.35,1.3e-10],[96.67,1.87e-10],[97.1,9.0e-11],[97.53,1.08e-10],[97.96,2.2e-10],[98.39,1.42e-10],[98.76,2.6e-10],[99.14,9.35e-11],[99.5,2.0e-10],[99.9,3.62e-10],[100.25,1.2e-10],[100.6,1.87e-10],[100.95,9.0e-11],[101.3,6.22e-11],[101.7,1.1e-10],[102.1,4.75e-11],[102.55,7.5e-11],[103.0,3.62e-11],[103.45,5.5e-11],[103.9,2.11e-11],[104.3,4.0e-11],[104.7,1.61e-11],[105.1,3.5e-11],[105.5,2.76e-11],[105.85,6.5e-11],[106.2,4.75e-11],[106.7,4.2e-10],[107.0,7.2e-9],[107.4,1.87e-10],[107.8,6.0e-11],[108.2,1.61e-11],[108.65,3.0e-11],[109.1,7.13e-12],[109.45,1.5e-11],[109.8,3.16e-12],[110.2,1.2e-11],[110.6,4.75e-12],[111.05,1.0e-11],[111.5,2.11e-11],[112.0,1.2e-11],[112.5,3.62e-11],[113.0,2.0e-11],[113.5,1.23e-11],[113.9,2.5e-11],[114.3,7.13e-12],[114.75,2.2e-11],[115.2,1.61e-11],[115.7,2.6e-11],[116.2,3.62e-11],[116.7,1.5e-11],[117.2,9.35e-12],[117.65,2.2e-11],[118.1,1.4e-12],[118.55,1.5e-11],[119.0,2.76e-11]];

const FONT = "'DejaVu Sans', 'Liberation Sans', sans-serif";
const NUMFONT = "'Liberation Sans', Arial, sans-serif";
const RICH = {
  b: { fontFamily: NUMFONT, fontSize: 22, lineHeight: 36, color: '#000' },
  s: { fontFamily: NUMFONT, fontSize: 13, lineHeight: 13, verticalAlign: 'top', color: '#000', padding: [0, 0, 0, 2] }
};
function powLabel(shownExps, minV) {
  return function (v, i) {
    let lv = v > 0 ? Math.log10(v) : (i === 0 ? Math.log10(minV) : NaN);
    if (!isFinite(lv)) return '';
    const e = Math.round(lv);
    if (Math.abs(lv - e) > 1e-6 || shownExps.indexOf(e) < 0) return '';
    return '{b|10}{s|' + e + '}';
  };
}
const majorLine = { show: true, lineStyle: { color: '#ababab', width: 1.4 } };
const minorLine = { show: true, lineStyle: { color: '#dcdcdc', width: 1 } };

function xAxisFor(gi, margin) {
  return {
    type: 'log', logBase: 10, gridIndex: gi, min: xRange[0], max: xRange[1],
    axisLine: { show: false },
    axisTick: { show: true, inside: true, length: 6, lineStyle: { color: '#222' } },
    minorTick: { show: true, splitNumber: 9, length: 3, lineStyle: { color: '#222' } },
    splitLine: majorLine, minorSplitLine: minorLine,
    axisLabel: { formatter: powLabel(xLabelExps, xRange[0]), margin: margin, rich: RICH, showMinLabel: true, showMaxLabel: true, hideOverlap: false }
  };
}
function yAxisFor(gi, range, exps) {
  return {
    type: 'log', logBase: 10, gridIndex: gi, min: range[0], max: range[1],
    axisLine: { show: false },
    axisTick: { show: true, inside: true, length: 6, lineStyle: { color: '#222' } },
    minorTick: { show: true, splitNumber: 9, length: 3, lineStyle: { color: '#222' } },
    splitLine: majorLine, minorSplitLine: minorLine,
    axisLabel: { formatter: powLabel(exps, range[0]), margin: 56, align: 'left', rich: RICH, showMinLabel: true, showMaxLabel: true, hideOverlap: false }
  };
}
function lineSeries(name, data, color, gi) {
  return {
    type: 'line', name: name, data: data, xAxisIndex: gi, yAxisIndex: gi,
    symbol: 'none', showSymbol: false, animation: false, silent: true,
    lineStyle: { color: color, width: 1.5 }, itemStyle: { color: color }
  };
}
function legendFor(names, left, top) {
  return {
    data: names, orient: 'vertical', left: left, top: top, icon: 'rect',
    padding: [12, 12, 10, 15], itemWidth: 74, itemHeight: 2, itemGap: 14,
    borderColor: '#000', borderWidth: 1, backgroundColor: '#fff',
    selectedMode: false,
    textStyle: { fontFamily: FONT, fontSize: 20, color: '#000', lineHeight: 20 }
  };
}

const chart = echarts.init(document.getElementById('c'), null, { renderer: 'canvas' });
chart.setOption({
  backgroundColor: '#fff',
  animation: false,
  title: [
    { text: titles[0], left: 553, top: 5, textAlign: 'center', textStyle: { fontFamily: FONT, fontSize: 20, fontWeight: 'normal', color: '#111' } },
    { text: titles[1], left: 553, top: 608, textAlign: 'center', textStyle: { fontFamily: FONT, fontSize: 20, fontWeight: 'normal', color: '#111' } }
  ],
  legend: [legendFor(legendTop, 718, 59), legendFor(legendBottom, 722, 664)],
  grid: [
    { left: 69, top: 48, width: 968, height: 436, show: true, borderColor: '#1e1e1e', borderWidth: 1.4, backgroundColor: 'transparent' },
    { left: 69, top: 653, width: 968, height: 435, show: true, borderColor: '#1e1e1e', borderWidth: 1.4, backgroundColor: 'transparent' }
  ],
  xAxis: [xAxisFor(0, 11), xAxisFor(1, 9)],
  yAxis: [yAxisFor(0, yRangeTop, yLabelExpsTop), yAxisFor(1, yRangeBottom, yLabelExpsBottom)],
  series: [
    lineSeries(legendTop[0], refCycle, '#0000ff', 0),
    lineSeries(legendTop[1], refQuiet, '#ff0000', 0),
    lineSeries(legendTop[2], refFloor, '#000000', 0),
    lineSeries(legendBottom[0], testCycle, '#0000ff', 1),
    lineSeries(legendBottom[1], testQuiet, '#ff0000', 1),
    lineSeries(legendBottom[2], testFloor, '#000000', 1)
  ]
});
</script>
</body></html>
